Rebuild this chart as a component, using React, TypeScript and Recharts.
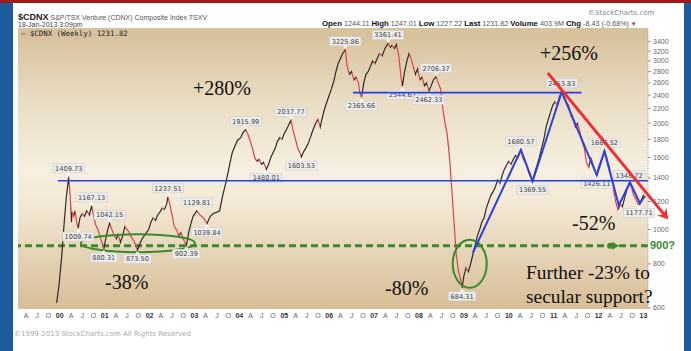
import React from 'react';
import { ComposedChart, Line, XAxis, YAxis, CartesianGrid, ReferenceLine, ReferenceDot, ReferenceArea } from 'recharts';

// ---- price series (decimal year, weekly close approximated) ----
const dates = [
  1999.93, 1999.98, 2000.04, 2000.10, 2000.15, 2000.20, 2000.23, 2000.26, 2000.28, 2000.31, 2000.34, 2000.38, 2000.41,
  2000.45, 2000.50, 2000.55, 2000.60, 2000.66, 2000.71, 2000.76, 2000.80, 2000.85, 2000.90, 2000.94, 2000.98,
  2001.03, 2001.07, 2001.11, 2001.16, 2001.21, 2001.26, 2001.30, 2001.35, 2001.40, 2001.45, 2001.50, 2001.55, 2001.60,
  2001.65, 2001.70, 2001.73, 2001.78, 2001.83, 2001.88, 2001.93, 2001.98, 2002.03, 2002.08, 2002.13, 2002.18, 2002.23,
  2002.28, 2002.33, 2002.38, 2002.41, 2002.45, 2002.50, 2002.55, 2002.60, 2002.65, 2002.70, 2002.75, 2002.82,
  2002.87, 2002.92, 2002.97, 2003.05, 2003.12, 2003.20, 2003.28, 2003.35, 2003.42, 2003.50, 2003.56, 2003.63, 2003.71,
  2003.78, 2003.84, 2003.90, 2003.96, 2004.03, 2004.08, 2004.14, 2004.19, 2004.24, 2004.29, 2004.34, 2004.39, 2004.44,
  2004.49, 2004.54, 2004.60, 2004.65, 2004.70, 2004.75, 2004.80, 2004.85, 2004.90, 2004.95, 2005.00, 2005.05, 2005.10,
  2005.15, 2005.20, 2005.25, 2005.30, 2005.35, 2005.38, 2005.43, 2005.48, 2005.53, 2005.58, 2005.63, 2005.70, 2005.75,
  2005.80, 2005.85, 2005.90, 2005.95, 2006.00, 2006.05, 2006.10, 2006.15, 2006.20, 2006.25, 2006.30, 2006.36,
  2006.40, 2006.45, 2006.50, 2006.55, 2006.60, 2006.65, 2006.68, 2006.72, 2006.77, 2006.82, 2006.87, 2006.92, 2006.97,
  2007.02, 2007.07, 2007.12, 2007.18, 2007.24, 2007.31, 2007.36, 2007.40, 2007.45, 2007.50, 2007.55, 2007.60, 2007.63,
  2007.68, 2007.73, 2007.78, 2007.82, 2007.87, 2007.92, 2007.97, 2008.02, 2008.07, 2008.12, 2008.17, 2008.22,
  2008.27, 2008.32, 2008.38, 2008.43, 2008.48, 2008.53, 2008.58, 2008.63, 2008.68, 2008.73, 2008.78, 2008.83,
  2008.88, 2008.93, 2008.96, 2009.00, 2009.05, 2009.10, 2009.15, 2009.20, 2009.25, 2009.30, 2009.35, 2009.40,
  2009.45, 2009.50, 2009.55, 2009.60, 2009.65, 2009.70, 2009.75, 2009.80, 2009.85, 2009.90, 2009.95, 2010.00,
  2010.05, 2010.10, 2010.15, 2010.20, 2010.27, 2010.32, 2010.37, 2010.42, 2010.47, 2010.53, 2010.58, 2010.63,
  2010.68, 2010.73, 2010.78, 2010.83, 2010.88, 2010.93, 2010.98, 2011.03, 2011.08, 2011.13, 2011.18, 2011.23,
  2011.28, 2011.33, 2011.38, 2011.43, 2011.48, 2011.53, 2011.58, 2011.63, 2011.68, 2011.73, 2011.78, 2011.83,
  2011.88, 2011.93, 2011.96, 2012.00, 2012.05, 2012.10, 2012.13, 2012.18, 2012.23, 2012.28, 2012.33, 2012.38,
  2012.43, 2012.48, 2012.53, 2012.58, 2012.63, 2012.68, 2012.73, 2012.78, 2012.83, 2012.88, 2012.90, 2012.95,
  2013.00, 2013.05,
];
const closes = [
  620, 690, 830, 1050, 1250, 1409.73, 1250, 1050, 1120, 1090, 1130, 1040, 1009.74,
  1080, 1110, 1090, 1130, 1100, 1167.13, 1080, 1030, 1000, 950, 920, 880.31,
  950, 1000, 1042.15, 1000, 960, 940, 970, 920, 960, 1020, 1000, 980, 950,
  930, 900, 873.5, 910, 940, 960, 980, 1000, 1050, 1080, 1060, 1100, 1120,
  1150, 1140, 1180, 1237.51, 1180, 1100, 1020, 1000, 960, 980, 940, 902.39,
  980, 1040, 1090, 1129.81, 1100, 1080, 1039.84, 1090, 1110, 1120, 1130, 1250, 1375,
  1520, 1650, 1720, 1790, 1820, 1880, 1915.99, 1860, 1780, 1700, 1600, 1560, 1580,
  1530, 1550, 1480.01, 1530, 1600, 1650, 1700, 1780, 1820, 1800, 1870, 1920, 1980,
  2037.77, 1900, 1800, 1700, 1650, 1603.53, 1660, 1700, 1750, 1820, 1900, 2000, 2050,
  1950, 2080, 2200, 2300, 2400, 2500, 2620, 2800, 2950, 3050, 3150, 3225.86,
  2900, 2750, 2800, 2650, 2700, 2600, 2450, 2365.66, 2600, 2750, 2800, 2900, 3000,
  2950, 3050, 3150, 3100, 3250, 3361.41, 3280, 3320, 3250, 3340, 3100, 2700, 2544.63,
  2800, 3000, 3150, 3050, 2900, 2750, 2850, 2650, 2700, 2550, 2600, 2462.33,
  2550, 2650, 2706.37, 2600, 2500, 2200, 2000, 1850, 1600, 1300, 1050, 850,
  760, 720, 684.31, 740, 780, 760, 800, 850, 900, 960, 1000, 1050,
  1080, 1150, 1200, 1250, 1280, 1320, 1380, 1350, 1420, 1480, 1520, 1560,
  1530, 1580, 1620, 1600, 1680.57, 1580, 1550, 1480, 1420, 1369.55, 1450, 1520,
  1600, 1700, 1800, 1950, 2050, 2150, 2250, 2300, 2250, 2380, 2453.83, 2350,
  2300, 2250, 2100, 2050, 1950, 2000, 1900, 1780, 1700, 1550, 1500, 1600,
  1520, 1460, 1426.11, 1500, 1560, 1620, 1666.52, 1600, 1520, 1420, 1300, 1200,
  1140, 1180, 1160, 1230, 1300, 1348.72, 1320, 1250, 1220, 1180, 1177.71, 1210,
  1250, 1231.82,
];

// ---- peak / trough annotations ----
const labelDates = [2000.20, 2000.41, 2000.71, 2000.98, 2001.11, 2001.73, 2002.41, 2002.82, 2003.05, 2003.28,
  2004.14, 2004.60, 2005.15, 2005.38, 2006.36, 2006.72, 2007.31, 2007.63, 2008.22, 2008.38, 2008.96,
  2010.27, 2010.53, 2011.18, 2011.96, 2012.13, 2012.68, 2012.90];
const labelValues = [1409.73, 1009.74, 1167.13, 880.31, 1042.15, 873.5, 1237.51, 902.39, 1129.81, 1039.84,
  1915.99, 1480.01, 2037.77, 1603.53, 3225.86, 2365.66, 3361.41, 2544.63, 2462.33, 2706.37, 684.31,
  1680.57, 1369.55, 2453.83, 1426.11, 1666.52, 1348.72, 1177.71];
const labelSides = ['a', 'b', 'a', 'b', 'a', 'b', 'a', 'b', 'a', 'b',
  'a', 'b', 'a', 'b', 'a', 'b', 'a', 'b', 'b', 'a', 'b',
  'a', 'b', 'a', 'b', 'a', 'a', 'b'];

// ---- hand-drawn overlay (blue zigzag) ----
const zigDates = [2009.20, 2010.27, 2010.53, 2011.18, 2011.96, 2012.13, 2012.45, 2012.70, 2012.92, 2013.02];
const zigValues = [860, 1680.57, 1369.55, 2453.83, 1426.11, 1666.52, 1170, 1360, 1185, 1240];

// ---- axes ----
const xTicks: number[] = [];
for (let y = 1999; y <= 2013; y++) {
  for (let q = 0; q < 4; q++) {
    const t = y + q * 0.25;
    if (t >= 1999.25 && t <= 2013.0) xTicks.push(t);
  }
}
const yTicks = [600, 800, 1000, 1200, 1400, 1600, 1800, 2000, 2200, 2400, 2600, 2800, 3000, 3200, 3400];

const rows = dates.map((t, i) => ({ t, v: closes[i] }));
const zigRows = zigDates.map((t, i) => ({ t, z: zigValues[i] }));

const BLACK = '#2a2a2a';
const RED = '#d8434c';
const BLUE = '#2a3fe0';
const GREEN = '#3a8a2a';
const ARROW = '#ee3030';

const t0 = dates[0];
const tn = dates[dates.length - 1];
const stops: React.ReactElement[] = [];
for (let i = 0; i < dates.length - 1; i++) {
  const c = closes[i + 1] >= closes[i] ? BLACK : RED;
  stops.push(<stop key={'a' + i} offset={(dates[i] - t0) / (tn - t0)} stopColor={c} />);
  stops.push(<stop key={'b' + i} offset={(dates[i + 1] - t0) / (tn - t0)} stopColor={c} />);
}

const XTick = (p: any) => {
  const t = p.payload.value;
  const frac = Math.round((t - Math.floor(t)) * 4);
  const yr = Math.floor(t + 1e-6);
  const txt = frac === 0 ? String(yr % 100).padStart(2, '0') : ['', 'A', 'J', 'O'][frac];
  return (
    <text x={p.x} y={p.y + 6} textAnchor="middle" fontSize={7} fontFamily="Liberation Sans, Arial, sans-serif"
      fontWeight={frac === 0 ? 700 : 400} fill={frac === 0 ? '#333' : '#666'}>{txt}</text>
  );
};

const YTick = (p: any) => (
  <text x={p.x} y={p.y + 2.5} textAnchor="start" fontSize={7} fontFamily="Liberation Sans, Arial, sans-serif" fill="#666">
    {p.payload.value}
  </text>
);

const makeLabel = (text: string, side: string) => (p: any) => {
  const { cx, cy } = p;
  if (cx == null || cy == null) return null;
  const w = text.length * 3.9 + 4;
  const h = 9;
  const bx = cx - w / 2;
  const by = side === 'a' ? cy - h - 4 : cy + 4;
  const tri = side === 'a'
    ? `${cx - 2.5},${by + h} ${cx + 2.5},${by + h} ${cx},${by + h + 3}`
    : `${cx - 2.5},${by} ${cx + 2.5},${by} ${cx},${by - 3}`;
  return (
    <g>
      <rect x={bx} y={by} width={w} height={h} fill="#ececec" stroke="#cfcfcf" strokeWidth={0.6} />
      <polygon points={tri} fill="#ffffff" />
      <text x={cx} y={by + 7} textAnchor="middle" fontSize={6.6} fontFamily="DejaVu Sans, sans-serif" fill="#444">{text}</text>
    </g>
  );
};

const ellipseShape = (rx: number, ry: number) => (p: any) => (
  <ellipse cx={p.cx} cy={p.cy} rx={rx} ry={ry} fill="none" stroke={GREEN} strokeWidth={2} />
);

const greenArrow = (p: any) => (
  <g>
    <circle cx={p.cx - 2} cy={p.cy} r={3} fill={GREEN} />
    <polygon points={`${p.cx},${p.cy - 4} ${p.cx + 7},${p.cy} ${p.cx},${p.cy + 4}`} fill={GREEN} />
  </g>
);

const arrowLine = (p: any) => (
  <line x1={p.x1} y1={p.y1} x2={p.x2} y2={p.y2} stroke={ARROW} strokeWidth={2.8} markerEnd="url(#arrR)" />
);

const bandLabel = (p: any) => {
  const vb = p.viewBox || {};
  return (
    <text x={(vb.x || 0) + 3} y={(vb.y || 0) + 8} fontSize={7.4} fontFamily="DejaVu Sans Mono, monospace" fill="#222">
      — $CDNX (Weekly) 1231.82
    </text>
  );
};

const serif = 'Liberation Serif, Times New Roman, serif';
const sans = 'Liberation Sans, Arial, sans-serif';

export default function App() {
  return (
    <div style={{ position: 'fixed', left: 0, top: 0, width: 691, height: 351, background: '#1c5c9c', overflow: 'hidden' }}>
      <div style={{ position: 'absolute', left: 0, top: 0, width: 691, height: 3, background: '#a31818' }} />
      <div style={{ position: 'absolute', left: 13, top: 3, width: 671, height: 348, background: '#ffffff' }} />
      <div style={{ position: 'absolute', left: 0, top: 0 }}>
        <ComposedChart width={691} height={351} data={rows} margin={{ top: 28, left: 18, right: 8, bottom: 22 }}>
          <defs>
            <linearGradient id="bgGrad" x1="0" y1="0" x2="0" y2="1">
              <stop offset="0" stopColor="#d6bf99" />
              <stop offset="0.25" stopColor="#e9dcc2" />
              <stop offset="0.5" stopColor="#f6efe0" />
              <stop offset="0.62" stopColor="#f3e9d6" />
              <stop offset="1" stopColor="#d7bd96" />
            </linearGradient>
            <linearGradient id="dirGrad" x1="0" y1="0" x2="1" y2="0">{stops}</linearGradient>
            <marker id="arrR" markerWidth="12" markerHeight="12" refX="8" refY="6" orient="auto" markerUnits="userSpaceOnUse">
              <path d="M0,0 L10,6 L0,12 L3,6 Z" fill={ARROW} />
            </marker>
          </defs>
          <CartesianGrid horizontal={false} vertical={false} fill="url(#bgGrad)" />
          <XAxis dataKey="t" type="number" domain={[1999.07, 2013.1]} allowDataOverflow ticks={xTicks} interval={0}
            tick={<XTick />} tickLine={false} axisLine={false} height={20} tickSize={2} tickMargin={1} />
          <YAxis orientation="right" scale="log" domain={[596, 3718]} allowDataOverflow ticks={yTicks} interval={0}
            tick={<YTick />} width={35} tickSize={3} tickMargin={2} tickLine={{ stroke: '#999' }}
            axisLine={{ stroke: '#aaa', strokeDasharray: '1 1' }} />

          <ReferenceArea y1={3460} y2={3718} x1={1999.07} x2={2013.1} fill="#d8c29e" fillOpacity={1} stroke="none" label={bandLabel} />

          <ReferenceLine y={900} stroke={GREEN} strokeWidth={3} strokeDasharray="7 4" />
          <ReferenceDot x={2012.3} y={900} r={3} shape={greenArrow} />
          <ReferenceDot x={2001.74} y={915} r={1} shape={ellipseShape(57, 9)} />
          <ReferenceDot x={2009.13} y={800} r={1} shape={ellipseShape(17, 24)} />

          <Line dataKey="v" type="linear" stroke="url(#dirGrad)" strokeWidth={1.2} dot={false} isAnimationActive={false} />

          {labelDates.map((t, i) => (
            <ReferenceDot key={'l' + i} x={t} y={labelValues[i]} r={1}
              shape={makeLabel(labelValues[i].toFixed(2), labelSides[i])} />
          ))}

          <ReferenceLine segment={[{ x: 1999.96, y: 1375 }, { x: 2013.1, y: 1375 }]} stroke={BLUE} strokeWidth={1.6} ifOverflow="visible" zIndex={1500} />
          <ReferenceLine segment={[{ x: 2006.53, y: 2440 }, { x: 2011.62, y: 2440 }]} stroke={BLUE} strokeWidth={1.6} ifOverflow="visible" zIndex={1500} />
          <Line data={zigRows} dataKey="z" type="linear" stroke={BLUE} strokeWidth={2} dot={false} isAnimationActive={false} zIndex={1500} />

          <ReferenceLine segment={[{ x: 2010.87, y: 2773 }, { x: 2013.52, y: 1080 }]} ifOverflow="visible" shape={arrowLine} zIndex={1600} />
        </ComposedChart>
      </div>

      {/* chart header */}
      <div style={{ position: 'absolute', left: 18, top: 9, lineHeight: '11px', whiteSpace: 'nowrap', fontFamily: sans, color: '#222' }}>
        <span style={{ fontSize: 9, fontWeight: 700 }}>$CDNX</span>
        <span style={{ fontSize: 7, color: '#555' }}> S&amp;P/TSX Venture (CDNX) Composite Index TSXV</span>
      </div>
      <div style={{ position: 'absolute', left: 18, top: 20, lineHeight: '9px', fontSize: 7, fontFamily: sans, color: '#444', whiteSpace: 'nowrap' }}>
        18-Jan-2013 3:09pm
      </div>
      <div style={{ position: 'absolute', left: 322, top: 19, lineHeight: '10px', fontSize: 7.2, fontFamily: sans, color: '#555', whiteSpace: 'nowrap' }}>
        <b style={{ color: '#111', fontSize: 7.8 }}>Open</b> 1244.11 <b style={{ color: '#111', fontSize: 7.8 }}>High</b> 1247.01{' '}
        <b style={{ color: '#111', fontSize: 7.8 }}>Low</b> 1227.22 <b style={{ color: '#111', fontSize: 7.8 }}>Last</b> 1231.82{' '}
        <b style={{ color: '#111', fontSize: 7.8 }}>Volume</b> 403.9M <b style={{ color: '#111', fontSize: 7.8 }}>Chg</b> -8.43 (-0.68%)
        <span style={{ color: '#c22', fontSize: 6 }}> ▼</span>
      </div>
      <div style={{ position: 'absolute', left: 588, top: 9, lineHeight: '9px', fontSize: 7, fontFamily: 'DejaVu Sans, sans-serif', color: '#888', whiteSpace: 'nowrap' }}>
        ©StockCharts.com
      </div>
      <div style={{ position: 'absolute', left: 14, top: 330, lineHeight: '9px', fontSize: 7, fontFamily: 'DejaVu Sans, sans-serif', color: '#aaa', whiteSpace: 'nowrap' }}>
        ©1999-2013 StockCharts.com All Rights Reserved
      </div>

      {/* slide annotations */}
      <svg width={691} height={351} style={{ position: 'absolute', left: 0, top: 0, pointerEvents: 'none' }}>
        <g fontFamily={serif} fontSize={20} fill="#111">
          <text x={193} y={95}>+280%</text>
          <text x={540} y={60}>+256%</text>
          <text x={105} y={289}>-38%</text>
          <text x={385} y={295}>-80%</text>
          <text x={572} y={230}>-52%</text>
        </g>
        <g fontFamily={serif} fontSize={19.4} fill="#111">
          <text x={526} y={279}>Further -23% to</text>
          <text x={526} y={303}>secular support?</text>
        </g>
        <text x={650} y={249} fontFamily={sans} fontSize={11} fontWeight={700} fill={GREEN}>900?</text>
      </svg>
    </div>
  );
}
